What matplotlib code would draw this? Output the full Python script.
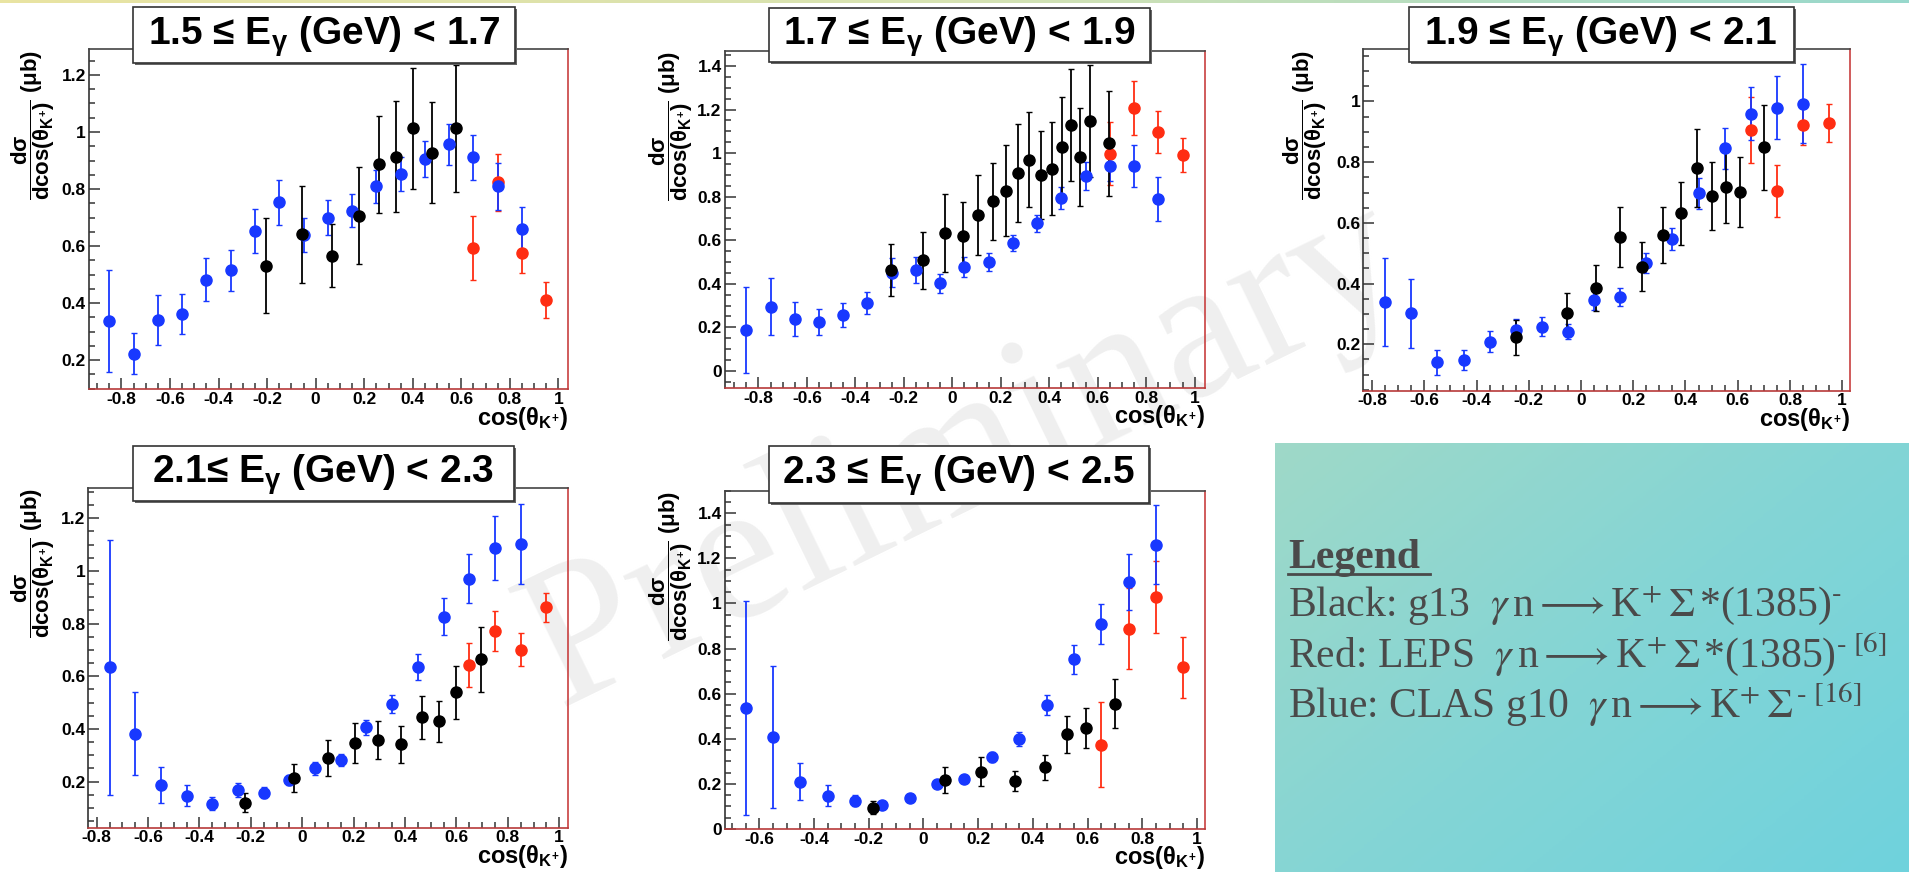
import numpy as np
import matplotlib
matplotlib.use("Agg")
import matplotlib.pyplot as plt
from matplotlib.ticker import MultipleLocator, FuncFormatter
from matplotlib.patches import Rectangle
from matplotlib.colors import LinearSegmentedColormap

plt.rcParams["font.family"] = "Liberation Sans"
plt.rcParams["mathtext.fontset"] = "custom"
plt.rcParams["mathtext.rm"] = "Liberation Sans:bold"
plt.rcParams["mathtext.it"] = "Liberation Sans:bold"
plt.rcParams["mathtext.bf"] = "Liberation Sans:bold"
plt.rcParams["mathtext.sf"] = "Liberation Sans:bold"

W, H = 1909, 872

# ---------------- data ----------------
titles = [
    "1.5 \u2264 E$_{\\gamma}$ (GeV) < 1.7",
    "1.7 \u2264 E$_{\\gamma}$ (GeV) < 1.9",
    "1.9 \u2264 E$_{\\gamma}$ (GeV) < 2.1",
    "2.1\u2264 E$_{\\gamma}$ (GeV) < 2.3",
    "2.3 \u2264 E$_{\\gamma}$ (GeV) < 2.5",
]

# 1.5 - 1.7 GeV
p1_blue_x = [-0.85, -0.75, -0.65, -0.55, -0.45, -0.35, -0.25, -0.15, -0.05, 0.05, 0.15, 0.25, 0.35, 0.45, 0.55, 0.65, 0.75, 0.85]
p1_blue_y = [0.338, 0.223, 0.341, 0.362, 0.482, 0.515, 0.653, 0.753, 0.638, 0.700, 0.724, 0.810, 0.853, 0.907, 0.957, 0.911, 0.810, 0.660]
p1_blue_e = [0.180, 0.073, 0.086, 0.069, 0.075, 0.071, 0.077, 0.078, 0.060, 0.061, 0.057, 0.058, 0.061, 0.063, 0.071, 0.079, 0.082, 0.078]
p1_red_x = [0.65, 0.75, 0.85, 0.95]
p1_red_y = [0.593, 0.824, 0.575, 0.411]
p1_red_e = [0.111, 0.100, 0.070, 0.062]
p1_black_x = [-0.205, -0.056, 0.069, 0.177, 0.261, 0.331, 0.400, 0.478, 0.580]
p1_black_y = [0.532, 0.642, 0.566, 0.707, 0.887, 0.914, 1.013, 0.928, 1.013]
p1_black_e = [0.168, 0.170, 0.110, 0.170, 0.170, 0.196, 0.213, 0.178, 0.223]

# 1.7 - 1.9 GeV
p2_blue_x = [-0.85, -0.75, -0.65, -0.55, -0.45, -0.35, -0.25, -0.15, -0.05, 0.05, 0.15, 0.25, 0.35, 0.45, 0.55, 0.65, 0.75, 0.85]
p2_blue_y = [0.188, 0.295, 0.237, 0.225, 0.257, 0.310, 0.451, 0.463, 0.402, 0.478, 0.500, 0.588, 0.677, 0.795, 0.894, 0.940, 0.941, 0.789]
p2_blue_e = [0.196, 0.130, 0.078, 0.060, 0.055, 0.050, 0.065, 0.058, 0.045, 0.046, 0.040, 0.038, 0.038, 0.050, 0.065, 0.067, 0.097, 0.100]
p2_red_x = [0.65, 0.75, 0.85, 0.95]
p2_red_y = [0.998, 1.207, 1.097, 0.992]
p2_red_e = [0.143, 0.122, 0.095, 0.078]
p2_black_x = [-0.255, -0.120, -0.031, 0.044, 0.108, 0.166, 0.221, 0.273, 0.318, 0.367, 0.411, 0.451, 0.490, 0.528, 0.570, 0.647]
p2_black_y = [0.463, 0.507, 0.634, 0.619, 0.715, 0.778, 0.827, 0.909, 0.969, 0.899, 0.929, 1.026, 1.128, 0.983, 1.146, 1.044]
p2_black_e = [0.118, 0.130, 0.178, 0.155, 0.185, 0.175, 0.208, 0.225, 0.218, 0.203, 0.212, 0.230, 0.258, 0.225, 0.257, 0.240]

# 1.9 - 2.1 GeV
p3_blue_x = [-0.75, -0.65, -0.55, -0.45, -0.35, -0.25, -0.15, -0.05, 0.05, 0.15, 0.25, 0.35, 0.45, 0.55, 0.65, 0.75, 0.85]
p3_blue_y = [0.338, 0.302, 0.140, 0.147, 0.208, 0.248, 0.258, 0.242, 0.346, 0.356, 0.468, 0.547, 0.697, 0.846, 0.960, 0.980, 0.992]
p3_blue_e = [0.145, 0.113, 0.040, 0.033, 0.035, 0.036, 0.032, 0.025, 0.033, 0.030, 0.032, 0.036, 0.050, 0.068, 0.087, 0.105, 0.130]
p3_red_x = [0.65, 0.75, 0.85, 0.95]
p3_red_y = [0.905, 0.705, 0.922, 0.929]
p3_red_e = [0.109, 0.087, 0.064, 0.062]
p3_black_x = [-0.248, -0.055, 0.058, 0.148, 0.233, 0.312, 0.382, 0.445, 0.500, 0.554, 0.609, 0.702]
p3_black_y = [0.223, 0.304, 0.385, 0.553, 0.456, 0.560, 0.632, 0.782, 0.689, 0.718, 0.701, 0.849]
p3_black_e = [0.057, 0.065, 0.077, 0.099, 0.081, 0.093, 0.104, 0.129, 0.113, 0.118, 0.116, 0.140]

# 2.1 - 2.3 GeV
p4_blue_x = [-0.75, -0.65, -0.55, -0.45, -0.35, -0.25, -0.15, -0.05, 0.05, 0.15, 0.25, 0.35, 0.45, 0.55, 0.65, 0.75, 0.85]
p4_blue_y = [0.634, 0.382, 0.187, 0.146, 0.116, 0.168, 0.158, 0.206, 0.251, 0.282, 0.406, 0.495, 0.635, 0.827, 0.971, 1.086, 1.104]
p4_blue_e = [0.485, 0.158, 0.070, 0.040, 0.025, 0.028, 0.022, 0.020, 0.025, 0.022, 0.028, 0.033, 0.050, 0.070, 0.094, 0.122, 0.152]
p4_red_x = [0.65, 0.75, 0.85, 0.95]
p4_red_y = [0.643, 0.772, 0.701, 0.863]
p4_red_e = [0.082, 0.075, 0.062, 0.055]
p4_black_x = [-0.222, -0.033, 0.101, 0.206, 0.295, 0.384, 0.465, 0.533, 0.600, 0.695]
p4_black_y = [0.120, 0.213, 0.289, 0.346, 0.358, 0.341, 0.444, 0.429, 0.539, 0.665]
p4_black_e = [0.037, 0.053, 0.068, 0.075, 0.073, 0.071, 0.083, 0.079, 0.102, 0.124]

# 2.3 - 2.5 GeV
p5_blue_x = [-0.65, -0.55, -0.45, -0.35, -0.25, -0.15, -0.05, 0.05, 0.15, 0.25, 0.35, 0.45, 0.55, 0.65, 0.75, 0.85]
p5_blue_y = [0.535, 0.407, 0.210, 0.148, 0.126, 0.105, 0.139, 0.201, 0.220, 0.321, 0.398, 0.549, 0.753, 0.909, 1.094, 1.261]
p5_blue_e = [0.475, 0.316, 0.082, 0.045, 0.025, 0.018, 0.015, 0.012, 0.012, 0.022, 0.030, 0.045, 0.064, 0.089, 0.124, 0.175]
p5_red_x = [0.65, 0.75, 0.85, 0.95]
p5_red_y = [0.373, 0.889, 1.027, 0.717]
p5_red_e = [0.188, 0.180, 0.160, 0.135]
p5_black_x = [-0.183, 0.079, 0.212, 0.336, 0.444, 0.525, 0.595, 0.700]
p5_black_y = [0.095, 0.217, 0.254, 0.214, 0.273, 0.420, 0.449, 0.556]
p5_black_e = [0.027, 0.059, 0.064, 0.044, 0.055, 0.082, 0.089, 0.109]

xlims = [(-0.935, 1.04), (-0.94, 1.044), (-0.835, 1.03), (-0.833, 1.035), (-0.727, 1.03)]
ylims = [(0.098, 1.29), (-0.08, 1.47), (0.047, 1.172), (0.025, 1.314), (0.0, 1.50)]

legend_lines = [
    "Black: g13  $\\gamma\\,$n$\\longrightarrow$K$^{+}\\,\\Sigma\\,$*(1385)$^{\u2010}$",
    "Red: LEPS  $\\gamma\\,$n$\\longrightarrow$K$^{+}\\,\\Sigma\\,$*(1385)$^{\u2010\\ [6]}$",
    "Blue: CLAS g10  $\\gamma\\,$n$\\longrightarrow$K$^{+}\\,\\Sigma^{\\,\u2010\\ [16]}$",
]

panels = [
    (p1_red_x, p1_red_y, p1_red_e, p1_blue_x, p1_blue_y, p1_blue_e, p1_black_x, p1_black_y, p1_black_e),
    (p2_red_x, p2_red_y, p2_red_e, p2_blue_x, p2_blue_y, p2_blue_e, p2_black_x, p2_black_y, p2_black_e),
    (p3_red_x, p3_red_y, p3_red_e, p3_blue_x, p3_blue_y, p3_blue_e, p3_black_x, p3_black_y, p3_black_e),
    (p4_red_x, p4_red_y, p4_red_e, p4_blue_x, p4_blue_y, p4_blue_e, p4_black_x, p4_black_y, p4_black_e),
    (p5_red_x, p5_red_y, p5_red_e, p5_blue_x, p5_blue_y, p5_blue_e, p5_black_x, p5_black_y, p5_black_e),
]

# ---------------- layout (pixel boxes: left, right, top, bottom) ----------------
axes_px = [(88.6, 568.2, 49.3, 389.3), (724.5, 1205.3, 50.7, 388.3), (1363, 1850, 49.3, 390.7),
           (88.2, 568.2, 488.3, 827.7), (724.5, 1205.3, 490.7, 829)]
title_px = [(132.7, 515, 7.3, 62.7), (768.6, 1150, 8.3, 62.3), (1408.5, 1793.6, 7.3, 62),
            (132.7, 514, 446, 500.7), (768.6, 1149, 446, 502.7)]
ylab_px = [(33, 50), (671, 51), (1305, 50), (33, 488), (671, 491)]


def frac_rect(l, r, t, b):
    return [l / W, 1 - b / H, (r - l) / W, (b - t) / H]


fig = plt.figure(figsize=(W / 100, H / 100), dpi=100)
fig.patch.set_facecolor("white")

# thin gradient strip along the top edge
strip = fig.add_axes([0, 1 - 3 / H, 1, 3 / H])
strip_cmap = LinearSegmentedColormap.from_list("strip", ["#e9e4a2", "#d6e2b2", "#98d8cc"])
strip.imshow(np.linspace(0, 1, 256)[None, :], aspect="auto", cmap=strip_cmap, extent=[0, 1, 0, 1])
strip.axis("off")

# legend panel with diagonal gradient
lg = fig.add_axes(frac_rect(1275, 1909, 442.7, 872))
gx, gy = np.meshgrid(np.linspace(0, 1, 200), np.linspace(0, 1, 200))
lg_cmap = LinearSegmentedColormap.from_list("lg", ["#9fd9c8", "#84d5d5", "#6fd2dd"])
lg.imshow(0.55 * gx + 0.45 * gy, aspect="auto", cmap=lg_cmap, extent=[0, 1, 1, 0])
lg.set_xlim(0, 1)
lg.set_ylim(1, 0)
lg.axis("off")

fmt = FuncFormatter(lambda v, p: f"{v:g}".replace("\u2212", "-"))

for i, data in enumerate(panels):
    rx, ry, re_, bx, by, be, kx, ky, ke = data
    ax = fig.add_axes(frac_rect(*axes_px[i]))
    ax.set_facecolor("none")
    for x, y, e, c in [(rx, ry, re_, "#ff2d12"), (bx, by, be, "#1838ff"), (kx, ky, ke, "black")]:
        ax.errorbar(x, y, yerr=e, fmt="o", color=c, ms=8, mec=c, elinewidth=1.3,
                    capsize=2.3, capthick=1.0, zorder=3)
    ax.set_xlim(*xlims[i])
    ax.set_ylim(*ylims[i])
    ax.xaxis.set_major_locator(MultipleLocator(0.2))
    ax.xaxis.set_minor_locator(MultipleLocator(0.05))
    ax.yaxis.set_major_locator(MultipleLocator(0.2))
    ax.yaxis.set_minor_locator(MultipleLocator(0.05))
    ax.xaxis.set_major_formatter(fmt)
    ax.yaxis.set_major_formatter(fmt)
    ax.tick_params(which="both", direction="in", top=False, right=False, color="#444444", width=1.2)
    ax.tick_params(which="major", length=8, pad=2)
    ax.tick_params(which="minor", length=4)
    for lab in ax.get_xticklabels() + ax.get_yticklabels():
        lab.set_fontsize(12.5)
        lab.set_fontweight("bold")
    ax.spines["left"].set_color("#333333")
    ax.spines["top"].set_color("#444444")
    ax.spines["right"].set_color("#c84040")
    ax.spines["bottom"].set_color("#b83a3a")
    for s in ax.spines.values():
        s.set_linewidth(1.2)
    ax.text(1.0, -0.085, r"cos($\theta_{K^{+}}$)", transform=ax.transAxes, ha="right", va="center",
            fontsize=17, fontweight="bold")

    # y label
    yx, yt = ylab_px[i]
    fig.text(yx / W, 1 - yt / H, r"$\dfrac{d\sigma}{dcos(\theta_{K^{+}})}$ ($\mu$b)", rotation=90,
             ha="center", va="top", fontsize=16, fontweight="bold")

    # title box with shadow
    l, r, t, b = title_px[i]
    fig.patches.append(Rectangle(((l + 2) / W, 1 - (b + 2) / H), (r - l) / W, (b - t) / H,
                                 transform=fig.transFigure, facecolor="#666666", edgecolor="none", zorder=4))
    fig.patches.append(Rectangle((l / W, 1 - b / H), (r - l) / W, (b - t) / H, transform=fig.transFigure,
                                 facecolor="white", edgecolor="#333333", linewidth=1.2, zorder=5))
    fig.text((l + r) / 2 / W, 1 - (t + b) / 2 / H - 0.002, titles[i], ha="center", va="center",
             fontsize=28, fontweight="bold", zorder=6)

# legend text
fig.text(1288 / W, 1 - 568 / H, "Legend", ha="left", va="baseline", fontsize=30, fontweight="bold",
         family="Liberation Serif", color="#4a4a4a", zorder=6)
fig.lines.append(plt.Line2D([1288 / W, 1430 / W], [1 - 574 / H, 1 - 574 / H], transform=fig.transFigure,
                            color="#4a4a4a", lw=2, zorder=6))
for j, yb in enumerate([616, 667, 718]):
    fig.text(1288 / W, 1 - yb / H, legend_lines[j], ha="left", va="baseline", fontsize=30,
             family="Liberation Serif", math_fontfamily="stix", color="#4a4a4a", zorder=6)

# watermark, behind the data
fig.text(965 / W, 1 - 455 / H, "Preliminary", rotation=26, ha="center", va="center", fontsize=145,
         family="Liberation Serif", color="#efefef", zorder=-1)

fig.savefig("out.png", dpi=100)
